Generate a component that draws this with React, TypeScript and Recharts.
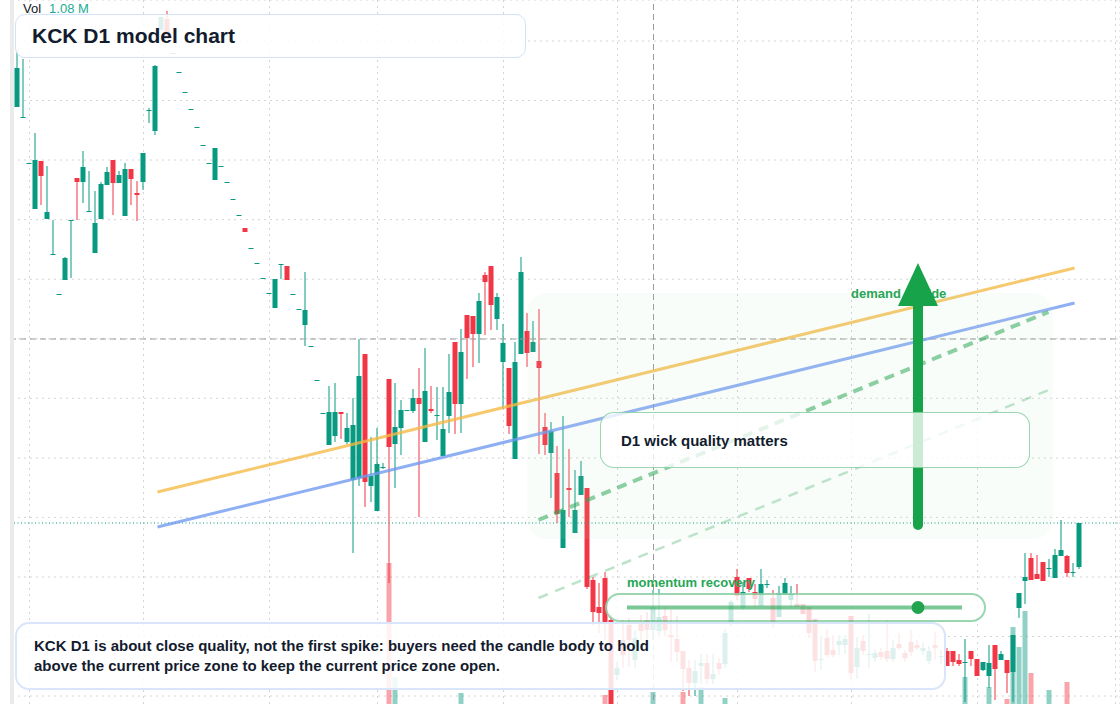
import React from 'react';
import { ComposedChart, Bar, XAxis, YAxis, CartesianGrid, ReferenceLine } from 'recharts';

// daily candles (price units, one entry per session)
const opens = [
  8.93, 8.83, 8.37, 7.91, 8.39, 7.81, 7.46, 7.06, 7.20, 7.79,
  8.22, 8.18, 7.89, 7.47, 7.81, 8.15, 8.40, 8.17, 7.84, 8.31,
  8.07, 8.18, 8.90, 8.69, 9.70, 9.81, 9.47, 9.28, 9.08, 8.91,
  8.73, 8.55, 8.37, 8.20, 8.34, 8.18, 8.01, 7.85, 7.72, 7.52,
  7.37, 7.22, 7.07, 6.92, 7.35, 7.34, 7.06, 6.91, 6.75, 6.54,
  6.20, 5.87, 5.55, 5.64, 5.88, 5.58, 5.20, 5.22, 6.46, 5.14,
  4.89, 5.33, 6.21, 5.56, 5.72, 5.90, 5.89, 6.02, 5.58, 5.91,
  5.85, 5.44, 5.84, 6.58, 5.96, 6.85, 6.84, 6.66, 7.25, 7.34,
  6.81, 6.38, 6.32, 5.41, 6.46, 6.69, 6.48, 6.39, 5.73, 5.47,
  5.27, 4.52, 5.12, 4.67, 5.05, 5.12, 4.20, 3.93, 4.22, 3.80,
  3.25, 3.60, 3.75, 3.40, 3.78, 3.80, 3.70, 3.69, 3.84, 3.65,
  3.61, 3.49, 3.32, 3.17, 3.34, 3.37, 3.21, 3.37, 3.36, 3.77,
  4.23, 3.92, 4.22, 4.08, 3.94, 4.16, 4.02, 3.83, 4.05, 4.00,
  3.96, 3.96, 3.93, 3.81, 3.41, 3.62, 3.50, 3.55, 3.55, 3.84,
  3.33, 3.59, 3.46, 3.42, 3.48, 3.49, 3.41, 3.56, 3.47, 3.58,
  3.55, 3.49, 3.39, 3.55, 3.44, 3.49, 3.49, 3.40, 3.38, 3.49,
  3.41, 3.30, 3.24, 3.55, 3.40, 3.40, 3.28, 3.92, 4.19, 4.42,
  4.26, 4.38, 4.32, 4.22, 4.44, 4.44, 4.28, 4.33,
];

const highs = [
  9.50, 9.41, 8.37, 8.67, 8.39, 8.34, 7.80, 7.06, 7.43, 7.80,
  8.22, 8.49, 8.29, 8.09, 8.18, 8.33, 8.40, 8.29, 8.37, 8.31,
  8.19, 8.47, 8.92, 9.35, 9.83, 9.89, 9.47, 9.28, 9.08, 8.91,
  8.73, 8.55, 8.37, 8.52, 8.34, 8.18, 8.01, 7.85, 7.72, 7.52,
  7.37, 7.22, 7.07, 7.21, 7.36, 7.34, 7.06, 6.91, 7.28, 6.54,
  6.20, 5.87, 6.14, 6.17, 5.88, 5.87, 6.02, 6.61, 6.46, 5.63,
  5.72, 5.37, 6.21, 6.17, 6.00, 5.90, 6.11, 6.32, 6.52, 6.14,
  6.13, 6.13, 6.46, 6.58, 6.71, 6.85, 6.84, 7.07, 7.28, 7.34,
  7.07, 6.76, 6.32, 6.58, 7.43, 6.87, 6.79, 6.91, 5.87, 5.78,
  5.54, 5.84, 5.51, 5.30, 5.39, 5.12, 4.23, 4.17, 4.28, 3.85,
  3.38, 3.80, 3.82, 3.70, 3.85, 3.88, 4.10, 4.11, 3.93, 3.90,
  3.84, 3.49, 3.40, 3.40, 3.46, 3.46, 3.46, 3.42, 3.71, 4.00,
  4.31, 4.18, 4.22, 4.16, 4.31, 4.20, 4.10, 4.14, 4.22, 4.14,
  4.16, 3.96, 3.93, 3.81, 3.64, 3.71, 3.65, 3.65, 3.65, 3.84,
  3.63, 3.65, 3.86, 3.50, 3.52, 3.80, 3.60, 3.67, 3.50, 3.70,
  3.60, 3.57, 3.54, 3.68, 3.50, 3.52, 3.49, 3.46, 3.61, 3.49,
  3.41, 3.38, 3.55, 3.55, 3.49, 3.40, 3.65, 4.07, 4.47, 4.47,
  4.45, 4.38, 4.41, 4.51, 4.80, 4.45, 4.37, 4.77,
];

const lows = [
  8.93, 8.83, 8.37, 7.91, 7.95, 7.81, 7.46, 7.06, 7.20, 7.22,
  7.80, 7.97, 7.89, 7.47, 7.81, 8.15, 7.85, 8.17, 7.84, 7.95,
  7.79, 8.10, 8.77, 8.65, 9.70, 9.61, 9.47, 9.28, 9.08, 8.91,
  8.73, 8.55, 8.37, 8.20, 8.34, 8.18, 8.01, 7.85, 7.68, 7.52,
  7.37, 7.22, 7.07, 6.92, 7.21, 7.20, 7.06, 6.91, 6.54, 6.54,
  6.20, 5.87, 5.55, 5.58, 5.61, 5.56, 4.47, 5.14, 4.93, 4.98,
  4.89, 5.31, 4.17, 5.12, 5.45, 5.90, 5.87, 4.83, 5.58, 5.87,
  5.60, 5.44, 5.67, 5.66, 5.67, 6.21, 6.33, 6.37, 6.65, 6.70,
  6.70, 5.91, 5.66, 5.41, 6.46, 6.33, 6.48, 5.46, 5.45, 5.02,
  4.77, 4.52, 4.83, 4.67, 5.05, 4.11, 3.75, 3.67, 3.60, 2.82,
  3.20, 3.32, 3.33, 3.32, 3.60, 3.55, 3.60, 3.64, 3.64, 3.38,
  3.38, 3.09, 3.04, 3.04, 3.16, 3.16, 3.16, 3.25, 3.32, 3.74,
  4.00, 3.90, 4.08, 3.93, 3.94, 4.12, 3.72, 3.83, 4.05, 3.93,
  3.93, 3.86, 3.62, 3.28, 3.30, 3.43, 3.43, 3.45, 3.46, 3.21,
  3.21, 3.45, 3.32, 3.38, 3.40, 3.38, 3.38, 3.50, 3.38, 3.44,
  3.50, 3.45, 3.36, 3.40, 3.36, 3.34, 3.34, 3.34, 2.98, 3.34,
  3.24, 3.29, 3.12, 3.00, 3.40, 3.07, 2.98, 3.82, 3.96, 4.20,
  4.21, 4.19, 4.23, 4.22, 4.44, 4.23, 4.23, 4.31,
];

const closes = [
  9.32, 8.83, 8.37, 8.40, 8.24, 7.88, 7.46, 7.06, 7.42, 7.80,
  8.18, 8.33, 7.89, 7.77, 8.16, 8.28, 8.17, 8.25, 8.31, 8.21,
  8.05, 8.47, 8.90, 9.34, 9.83, 9.61, 9.47, 9.28, 9.08, 8.91,
  8.73, 8.55, 8.37, 8.52, 8.34, 8.18, 8.01, 7.85, 7.68, 7.52,
  7.37, 7.22, 7.07, 7.21, 7.36, 7.20, 7.06, 6.91, 6.90, 6.54,
  6.20, 5.87, 5.88, 5.88, 5.86, 5.72, 5.75, 6.24, 5.18, 5.24,
  5.36, 5.33, 5.53, 5.73, 5.90, 5.90, 6.02, 5.96, 6.09, 5.89,
  5.85, 5.71, 6.08, 5.96, 6.48, 6.62, 6.66, 6.99, 7.18, 6.95,
  7.03, 6.57, 5.74, 6.38, 7.28, 6.47, 6.58, 6.32, 5.55, 5.69,
  4.86, 4.90, 5.10, 4.90, 5.24, 4.13, 3.88, 3.87, 3.78, 2.88,
  3.32, 3.45, 3.60, 3.62, 3.69, 3.70, 3.93, 3.83, 3.70, 3.63,
  3.48, 3.31, 3.17, 3.29, 3.37, 3.21, 3.26, 3.31, 3.67, 3.98,
  4.04, 4.08, 4.11, 4.01, 4.16, 4.16, 3.77, 4.07, 4.17, 4.06,
  3.93, 3.86, 3.67, 3.39, 3.41, 3.45, 3.45, 3.59, 3.61, 3.27,
  3.52, 3.49, 3.46, 3.47, 3.43, 3.41, 3.52, 3.52, 3.42, 3.48,
  3.52, 3.52, 3.49, 3.52, 3.44, 3.34, 3.38, 3.36, 3.38, 3.41,
  3.24, 3.38, 3.37, 3.31, 3.46, 3.27, 3.65, 4.07, 4.23, 4.20,
  4.21, 4.19, 4.32, 4.45, 4.50, 4.27, 4.28, 4.77,
];

// only the volume bars that rise into view (session index, shares)
const volumeReadings = [
  [62, 4925000], [63, 2075000], [74, 1675000], [98, 1625000],
  [106, 1700000], [111, 1700000], [114, 1825000], [118, 1550000],
  [158, 2075000], [162, 1825000], [165, 1525000], [166, 3325000],
  [167, 2825000], [168, 3725000], [169, 2175000], [172, 1750000],
  [175, 1950000], [177, 1080000],
];

const gridX = [2, 21, 42, 60, 81, 100, 120, 139, 160, 183];
const gridY = [3.04, 3.635, 4.23, 4.826, 5.42, 6.017, 6.613, 7.208, 7.804, 8.4, 8.995, 9.59];

const crossIndex = 106;
const crossPrice = 6.61;
const lastPrice = 4.77;

const trendLines = [
  { from: [23.33, 5.08], to: [176.17, 7.32], color: '#f5b942', width: 3, opacity: 0.78, dash: undefined },
  { from: [23.33, 4.73], to: [176.17, 6.97], color: '#6f98f0', width: 3, opacity: 0.78, dash: undefined },
  { from: [86.83, 4.8], to: [171.83, 6.88], color: '#22a34f', width: 4, opacity: 0.55, dash: '10 7' },
  { from: [86.83, 4.02], to: [171.83, 6.1], color: '#22a34f', width: 2.5, opacity: 0.3, dash: '10 8' },
];

const PRICE_MIN = 2.4;
const PRICE_MAX = 10;
const VOL_MAX = 19000000;
const X_DOMAIN = [-2.9167, 183.75];
const UP = '#089981';
const DOWN = '#f23645';
const FONT = '"Liberation Sans", Arial, sans-serif';
const INK = '#131c2e';

const rows = opens.map((open, i) => {
  const vol = volumeReadings.find((v) => v[0] === i);
  return { i, open, high: highs[i], low: lows[i], close: closes[i], volume: vol ? vol[1] : null };
});

// bar runs from the axis floor up to the high; use its height to place o/c/l
const Candle = (props: any) => {
  const { x, y, width, height, payload } = props;
  if (!payload || height == null) return <g />;
  const cx = x + width / 2;
  const k = height / (payload.high - PRICE_MIN);
  const py = (v: number) => y + (payload.high - v) * k;
  const color = payload.close >= payload.open ? UP : DOWN;
  const top = py(Math.max(payload.open, payload.close));
  const bot = py(Math.min(payload.open, payload.close));
  return (
    <g>
      <rect x={cx - 0.5} y={y} width={1} height={Math.max(py(payload.low) - y, 1)} fill={color} />
      <rect x={cx - 2.5} y={top} width={5} height={Math.max(bot - top, 1)} fill={color} />
    </g>
  );
};

const VolumeBar = (props: any) => {
  const { x, y, width, height, payload } = props;
  if (!payload || payload.volume == null) return <g />;
  const cx = x + width / 2;
  const color = payload.close >= payload.open ? 'rgba(8,153,129,0.45)' : 'rgba(242,54,69,0.45)';
  return <rect x={cx - 2.5} y={y} width={5} height={height} fill={color} />;
};

const box = (left: number, top: number, width: number, height: number): React.CSSProperties => ({
  position: 'absolute',
  left,
  top,
  width,
  height,
  boxSizing: 'border-box',
  display: 'flex',
  alignItems: 'center',
});

export default function App() {
  return (
    <div
      style={{
        position: 'absolute',
        left: 0,
        top: 0,
        width: 1120,
        height: 704,
        overflow: 'hidden',
        background: '#fff',
        fontFamily: FONT,
      }}
    >
      <div style={{ position: 'absolute', left: 0, top: 0 }}>
        <ComposedChart width={1120} height={760} data={rows} margin={{ top: 0, right: 0, bottom: 0, left: 0 }}>
          <XAxis xAxisId="px" dataKey="i" type="number" domain={X_DOMAIN} ticks={gridX} allowDataOverflow hide />
          <XAxis xAxisId="vx" dataKey="i" type="number" domain={X_DOMAIN} allowDataOverflow hide />
          <YAxis yAxisId="price" type="number" domain={[PRICE_MIN, PRICE_MAX]} ticks={gridY} allowDataOverflow hide />
          <YAxis yAxisId="vol" type="number" domain={[0, VOL_MAX]} allowDataOverflow hide />
          <CartesianGrid xAxisId="px" yAxisId="price" stroke="#d4d4d4" strokeDasharray="2 4" />
          <Bar
            xAxisId="vx"
            yAxisId="vol"
            dataKey="volume"
            barSize={5}
            shape={VolumeBar}
            isAnimationActive={false}
          />
          <Bar
            xAxisId="px"
            yAxisId="price"
            dataKey="high"
            barSize={5}
            shape={Candle}
            isAnimationActive={false}
          />
          <ReferenceLine xAxisId="px" yAxisId="price" y={crossPrice} stroke="#9a9a9a" strokeDasharray="6 4" />
          <ReferenceLine xAxisId="px" yAxisId="price" x={crossIndex} stroke="#9a9a9a" strokeDasharray="6 4" />
          <ReferenceLine xAxisId="px" yAxisId="price" y={lastPrice} stroke={UP} strokeDasharray="1 2.5" />
          {trendLines.map((t, n) => (
            <ReferenceLine
              key={n}
              xAxisId="px"
              yAxisId="price"
              segment={[
                { x: t.from[0], y: t.from[1] },
                { x: t.to[0], y: t.to[1] },
              ]}
              stroke={t.color}
              strokeWidth={t.width}
              strokeOpacity={t.opacity}
              strokeDasharray={t.dash}
            />
          ))}
        </ComposedChart>
      </div>

      {/* left scale edge */}
      <div style={{ position: 'absolute', left: 0, top: 0, width: 10, height: 704, background: '#fff' }} />
      <div style={{ position: 'absolute', left: 10, top: 0, width: 4, height: 704, background: '#ebebeb' }} />

      <div style={{ position: 'absolute', left: 23, top: 1, fontSize: 13, lineHeight: '16px', whiteSpace: 'nowrap' }}>
        <span style={{ color: '#131722' }}>Vol</span>
        <span style={{ color: '#22ab94', marginLeft: 8 }}>1.08 M</span>
      </div>

      {/* shaded demand zone */}
      <div
        style={{
          position: 'absolute',
          left: 527,
          top: 293,
          width: 526,
          height: 246,
          borderRadius: 20,
          background: 'rgba(190,232,200,0.09)',
        }}
      />

      <svg width={1120} height={704} style={{ position: 'absolute', left: 0, top: 0 }}>
        <text x={851} y={298} fontSize={13} fontWeight={700} fill="#27a656" fontFamily={FONT}>
          demand upside
        </text>
        <line x1={918} y1={300} x2={918} y2={525} stroke="#16a34a" strokeWidth={10} strokeLinecap="round" />
        <polygon points="918,263 898,306 938,306" fill="#16a34a" />
      </svg>

      <div
        style={{
          ...box(600, 412, 430, 56),
          border: '1.5px solid rgba(34,163,79,0.45)',
          borderRadius: 14,
          background: 'rgba(255,255,255,0.78)',
          paddingLeft: 20,
          fontSize: 15,
          fontWeight: 700,
          color: INK,
        }}
      >
        D1 wick quality matters
      </div>

      <div
        style={{
          position: 'absolute',
          left: 627,
          top: 575,
          fontSize: 13,
          lineHeight: '16px',
          fontWeight: 700,
          color: '#27a656',
          whiteSpace: 'nowrap',
        }}
      >
        momentum recovery
      </div>
      <div
        style={{
          ...box(605, 593, 381, 29),
          border: '2px solid rgba(34,163,79,0.45)',
          borderRadius: 15,
          background: 'rgba(255,255,255,0.78)',
        }}
      />
      <svg width={1120} height={704} style={{ position: 'absolute', left: 0, top: 0 }}>
        <line x1={627} y1={607.5} x2={962} y2={607.5} stroke="#22a34f" strokeOpacity={0.6} strokeWidth={4} />
        <circle cx={918} cy={607.5} r={6.5} fill="#22a34f" />
      </svg>

      <div
        style={{
          ...box(15, 622, 931, 68),
          border: '2px solid #d9e5fb',
          borderRadius: 14,
          background: 'rgba(255,255,255,0.86)',
          paddingLeft: 17,
          fontSize: 15,
          lineHeight: '20px',
          fontWeight: 700,
          color: INK,
        }}
      >
        KCK D1 is about close quality, not the first spike: buyers need the candle body to hold
        <br />
        above the current price zone to keep the current price zone open.
      </div>

      <div
        style={{
          ...box(15, 14, 511, 44),
          border: '1.5px solid #d4e1f9',
          borderRadius: 10,
          background: 'rgba(255,255,255,0.86)',
          paddingLeft: 16,
          fontSize: 21,
          fontWeight: 700,
          color: INK,
        }}
      >
        KCK D1 model chart
      </div>
    </div>
  );
}
